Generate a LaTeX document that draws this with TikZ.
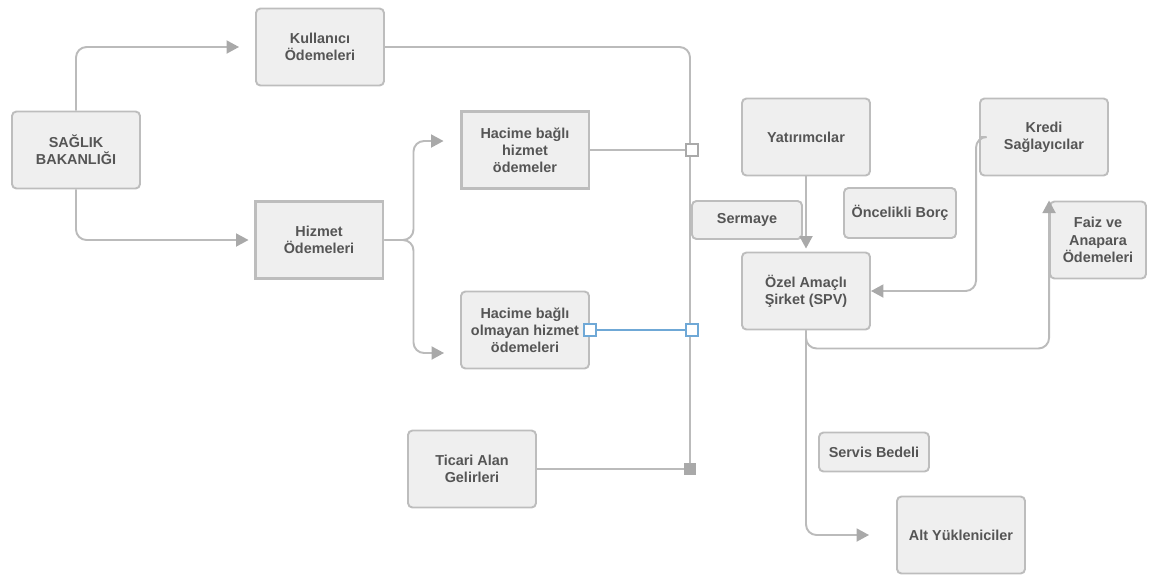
\documentclass[tikz,border=0pt]{standalone}
\usepackage{fontspec}
\setmainfont{Liberation Sans}
\usepackage{xcolor}
\usetikzlibrary{arrows.meta,positioning}
\definecolor{boxfill}{HTML}{EFEFEF}
\definecolor{boxline}{HTML}{BDBDBD}
\definecolor{linkgrey}{HTML}{BBBBBB}
\definecolor{tipgrey}{HTML}{A9A9A9}
\definecolor{txtgrey}{HTML}{555555}
\definecolor{portblue}{HTML}{6FA8D6}
\tikzset{
  box/.style={draw=boxline, fill=boxfill, line width=1.1pt, rounded corners=2.5pt,
              minimum width=2.56cm, minimum height=1.54cm, inner sep=1pt,
              align=center, text=txtgrey,
              font=\fontsize{8.2}{9.8}\selectfont\bfseries},
  sharpbox/.style={box, sharp corners, line width=1.7pt},
  link/.style={draw=linkgrey, line width=1.1pt, rounded corners=6pt},
  flow/.style={link, -{Triangle[length=2.5mm,width=2.6mm,fill=tipgrey,color=tipgrey]},
               shorten >=#1},
  flow/.default=0pt,
  port/.style={draw=#1, fill=white, line width=1.3pt, minimum size=2.3mm,
               inner sep=0pt},
  dot/.style={draw=tipgrey, fill=tipgrey, minimum size=2.2mm, inner sep=0pt},
}

\begin{document}
\begin{tikzpicture}[x=0.02cm, y=-0.02cm]
\useasboundingbox (0,0) rectangle (1155,576);

% ---------- payers ----------------------------------------------------
\node[box] (sb) at (76,150) {SAĞLIK\\BAKANLIĞI};
\node[box] (ku) at (320,47) {Kullanıcı\\Ödemeleri};
\node[sharpbox] (hz) at (319,240) {Hizmet\\Ödemeleri};
\node[sharpbox] (hb) at (525,150) {Hacime bağlı\\hizmet\\ödemeler};
\node[box] (hbo) at (525,330) {Hacime bağlı\\olmayan hizmet\\ödemeleri};
\node[box] (tc) at (472,469) {Ticari Alan\\Gelirleri};

% ---------- project company ------------------------------------------
\node[box] (yt) at (806,137) {Yatırımcılar};
\node[box] (spv) at (806,291) {Özel Amaçlı\\Şirket (SPV)};
\node[box, minimum width=2.2cm, minimum height=0.76cm] (sr) at (747,220) {Sermaye};
\node[box, minimum width=2.24cm, minimum height=1cm] (ob) at (900,213) {Öncelikli Borç};
\node[box] (kr) at (1044,137) {Kredi\\Sağlayıcılar};
\node[box, minimum width=1.92cm] (fz) at (1098,240) {Faiz ve\\Anapara\\Ödemeleri};
\node[box, minimum width=2.2cm, minimum height=0.78cm] (sv) at (874,452) {Servis Bedeli};
\node[box] (alt) at (961,535) {Alt Yükleniciler};

% ---------- payment flows --------------------------------------------
\draw[flow=3.2mm] (sb.north) |- (ku.west);
\draw[flow=1mm] (sb.south) |- (hz.west);
\draw[flow=3.2mm] (hz.east) -- ++(29,0) |- ([yshift=0.18cm]hb.west);
\draw[flow=3.2mm] (hz.east) -- ++(29,0) |- ([yshift=-0.46cm]hbo.west);

% ---------- collection line ------------------------------------------
\node[dot] (p4) at (690,469) {};
\draw[link] (ku.east) -| (p4);
\draw[link] (tc.east) -- (p4);
\node[port=tipgrey] (p1) at (692,150) {};
\draw[link, line width=1.6pt] (hb.east) -- (p1);
\node[port=portblue] (p2) at (692,330) {};
\node[port=portblue] (p3) at (hbo.east) {};
\draw[draw=portblue, line width=1.3pt] (p3) -- (p2);

% ---------- SPV flows ------------------------------------------------
\draw[flow=0.06cm] (yt.south) -- (spv.north);
\draw[flow] (kr.west) -- ++(-3,0) |- (spv.east);
\draw[flow] (spv.south) -- ++(0,18) -| (fz.north west);
\draw[flow=5.4mm] (spv.south) |- (alt.west);
\end{tikzpicture}
\end{document}
